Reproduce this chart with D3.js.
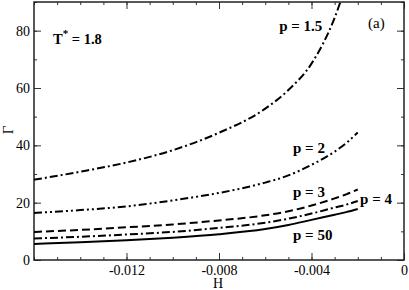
<!DOCTYPE html>
<html>
<head>
<meta charset="utf-8">
<script src="https://cdn.jsdelivr.net/npm/d3@7"></script>
<style>
  body { margin: 0; background: #fff; }
</style>
</head>
<body>
<div id="chart"></div>
<script>
// H grid (x values) shared by every curve
var hValues = [-0.016, -0.014, -0.012, -0.010, -0.008, -0.006, -0.005, -0.004, -0.003, -0.0025, -0.002];

// Gamma for each p
var gamma_p15 = [28, 30.8, 34, 38.3, 44.4, 52.8, 59.3, 68.5, 84.5, 96, null];
var gamma_p2  = [16.4, 17.4, 18.7, 20.8, 23.4, 27, 29.5, 33.2, 37.8, 40.8, 44.5];
var gamma_p3  = [9.8, 10.5, 11.4, 12.4, 13.8, 15.6, 17, 19.0, 21.5, 22.9, 24.6];
var gamma_p4  = [7.5, 8.1, 8.9, 9.8, 11.2, 13, 14.4, 16.2, 18.3, 19.3, 20.6];
var gamma_p50 = [5.6, 6.2, 6.9, 7.8, 9.0, 10.8, 12.2, 14, 15.8, 16.7, 17.8];

var xTicks = [-0.012, -0.008, -0.004, 0];
var yTicks = [0, 20, 40, 60, 80];

var series = [
  {name: "p = 1.5", values: gamma_p15, dash: "8,3,2,3"},
  {name: "p = 2", values: gamma_p2, dash: "8,3,2,3,2,3"},
  {name: "p = 3", values: gamma_p3, dash: "8,4"},
  {name: "p = 4", values: gamma_p4, dash: "8,3,2,3"},
  {name: "p = 50", values: gamma_p50, dash: null}
];

// label positions in data units
var labelPos = {
  "p = 1.5": [-0.0054, 80],
  "p = 2": [-0.0048, 37.5],
  "p = 3": [-0.0048, 22],
  "p = 4": [-0.0019, 19.5],
  "p = 50": [-0.0048, 7]
};

var serif = "'Liberation Serif', 'Times New Roman', Times, serif";
var width = 409, height = 290;
var margin = {left: 34, right: 5, top: 2, bottom: 30};

var x = d3.scaleLinear().domain([-0.016, 0]).range([margin.left, width - margin.right]);
var y = d3.scaleLinear().domain([0, 90]).range([height - margin.bottom, margin.top]);

var svg = d3.select("#chart").append("svg")
    .attr("width", width)
    .attr("height", height)
    .attr("font-family", serif);

svg.append("defs").append("clipPath")
    .attr("id", "clip")
  .append("rect")
    .attr("x", margin.left)
    .attr("y", margin.top)
    .attr("width", width - margin.left - margin.right)
    .attr("height", height - margin.top - margin.bottom);

var fmt = function(d) { return d === 0 ? "0" : d3.format(".3f")(d).replace("\u2212", "-"); };
var minorX = d3.range(-16, 1).map(function(i) { return i / 1000; });
var minorY = d3.range(0, 91, 10);

function noDomain(g) { g.select(".domain").remove(); }

// bottom axis
svg.append("g")
    .attr("transform", "translate(0," + (height - margin.bottom) + ")")
    .call(d3.axisBottom(x).tickValues(minorX).tickSize(-3).tickFormat(""))
    .call(noDomain);
svg.append("g")
    .attr("class", "major")
    .attr("transform", "translate(0," + (height - margin.bottom) + ")")
    .call(d3.axisBottom(x).tickValues(xTicks).tickSize(-7).tickPadding(5).tickFormat(fmt))
    .call(noDomain);

// top axis (mirrored ticks)
svg.append("g")
    .attr("transform", "translate(0," + margin.top + ")")
    .call(d3.axisTop(x).tickValues(minorX).tickSize(-3).tickFormat(""))
    .call(noDomain);
svg.append("g")
    .attr("transform", "translate(0," + margin.top + ")")
    .call(d3.axisTop(x).tickValues(xTicks).tickSize(-7).tickFormat(""))
    .call(noDomain);

// left axis
svg.append("g")
    .attr("transform", "translate(" + margin.left + ",0)")
    .call(d3.axisLeft(y).tickValues(minorY).tickSize(-3).tickFormat(""))
    .call(noDomain);
svg.append("g")
    .attr("class", "major")
    .attr("transform", "translate(" + margin.left + ",0)")
    .call(d3.axisLeft(y).tickValues(yTicks).tickSize(-7).tickPadding(4))
    .call(noDomain);

// right axis
svg.append("g")
    .attr("transform", "translate(" + (width - margin.right) + ",0)")
    .call(d3.axisRight(y).tickValues(minorY).tickSize(-3).tickFormat(""))
    .call(noDomain);
svg.append("g")
    .attr("transform", "translate(" + (width - margin.right) + ",0)")
    .call(d3.axisRight(y).tickValues(yTicks).tickSize(-7).tickFormat(""))
    .call(noDomain);

svg.selectAll("g").attr("font-family", serif);
svg.selectAll(".tick line").attr("stroke", "#333");
svg.selectAll(".major text")
    .attr("font-size", 14)
    .attr("fill", "#000");

// frame
svg.append("rect")
    .attr("x", margin.left)
    .attr("y", margin.top)
    .attr("width", width - margin.left - margin.right)
    .attr("height", height - margin.top - margin.bottom)
    .attr("fill", "none")
    .attr("stroke", "#222")
    .attr("stroke-width", 1.5);

// curves
var line = d3.line()
    .defined(function(d) { return d[1] != null; })
    .x(function(d) { return x(d[0]); })
    .y(function(d) { return y(d[1]); })
    .curve(d3.curveMonotoneX);

svg.append("g")
    .attr("clip-path", "url(#clip)")
  .selectAll("path")
    .data(series)
  .enter().append("path")
    .attr("d", function(s) { return line(hValues.map(function(h, i) { return [h, s.values[i]]; })); })
    .attr("fill", "none")
    .attr("stroke", "#000")
    .attr("stroke-width", 2)
    .attr("stroke-dasharray", function(s) { return s.dash; });

// curve labels
svg.selectAll(".plabel")
    .data(series)
  .enter().append("text")
    .attr("class", "plabel")
    .attr("x", function(s) { return x(labelPos[s.name][0]); })
    .attr("y", function(s) { return y(labelPos[s.name][1]); })
    .attr("font-weight", "bold")
    .attr("font-size", 15)
    .text(function(s) { return s.name; });

// temperature annotation
var t = svg.append("text")
    .attr("x", 53)
    .attr("y", 44)
    .attr("font-weight", "bold")
    .attr("font-size", 14.5);
t.append("tspan").text("T");
t.append("tspan").attr("dy", -7).attr("font-size", 11).text("*");
t.append("tspan").attr("dy", 7).text(" = 1.8");

svg.append("text")
    .attr("x", 368)
    .attr("y", 28)
    .attr("font-size", 15)
    .text("(a)");

// axis titles
svg.append("text")
    .attr("x", 218)
    .attr("y", 288)
    .attr("text-anchor", "middle")
    .attr("font-size", 14)
    .text("H");

svg.append("text")
    .attr("transform", "translate(13,130) rotate(-90)")
    .attr("text-anchor", "middle")
    .attr("font-size", 15)
    .text("Γ");
</script>
</body>
</html>
